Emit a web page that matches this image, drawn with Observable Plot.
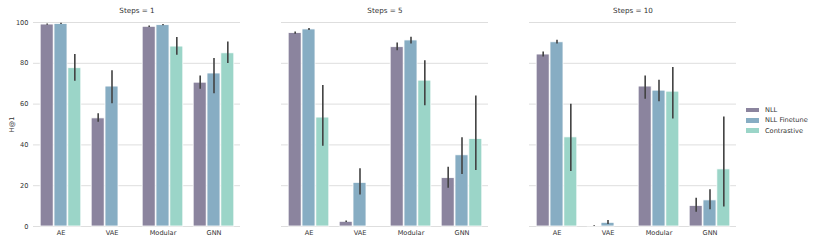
<!DOCTYPE html>
<html>
<head>
<meta charset="utf-8">
<script src="https://cdn.jsdelivr.net/npm/d3@7"></script>
<script src="https://cdn.jsdelivr.net/npm/@observablehq/plot@0.6"></script>
<style>
  html, body { margin: 0; padding: 0; background: #fff; }
  #wrap { position: relative; width: 817px; height: 243px; font-family: "DejaVu Sans", sans-serif; }
  #legend { position: absolute; left: 746px; top: 105px; font-size: 6.6px; color: #333; }
  #legend .row { display: flex; align-items: center; height: 10.3px; }
  #legend .sw { width: 13px; height: 4.5px; margin-right: 6px; }
</style>
</head>
<body>
<div id="wrap"><div id="chart"></div><div id="legend"></div></div>
<script>
const steps = [1, 5, 10];
const models = ["AE", "VAE", "Modular", "GNN"];
const methods = ["NLL", "NLL Finetune", "Contrastive"];
const colors = ["#8b849e", "#87adc3", "#9bd5c8"];

// values ordered steps x models
const nllMean = [99.0, 53.0, 97.9, 70.5, 94.8, 2.3, 87.9, 23.7, 84.3, 0.3, 68.6, 10.1];
const nllLo   = [98.6, 51.1, 97.5, 67.3, 94.3, 1.9, 86.1, 18.8, 83.1, 0.1, 62.4, 7.0];
const nllHi   = [99.3, 55.3, 98.3, 73.8, 95.4, 2.7, 89.9, 29.0, 85.6, 0.5, 73.8, 13.9];
const ftMean  = [99.3, 68.6, 98.7, 75.0, 96.6, 21.4, 91.2, 34.9, 90.3, 1.8, 66.6, 12.8];
const ftLo    = [99.0, 60.2, 98.4, 65.1, 96.1, 15.5, 89.5, 25.5, 89.5, 1.0, 61.2, 8.2];
const ftHi    = [99.6, 76.3, 99.0, 82.3, 97.1, 28.3, 92.8, 43.5, 91.3, 2.9, 71.7, 18.0];
const coMean  = [77.6, null, 88.2, 84.9, 53.4, null, 71.5, 42.9, 43.7, null, 66.1, 28.0];
const coLo    = [71.2, null, 84.0, 79.9, 39.3, null, 59.2, 27.5, 27.0, null, 52.7, 9.5];
const coHi    = [84.3, null, 92.6, 90.5, 69.1, null, 81.3, 64.0, 59.9, null, 77.9, 53.7];
const yTicks = [0, 20, 40, 60, 80, 100];

const series = [[nllMean, nllLo, nllHi], [ftMean, ftLo, ftHi], [coMean, coLo, coHi]];
const rows = [];
methods.forEach((m, mi) => {
  steps.forEach((s, si) => {
    models.forEach((md, k) => {
      const idx = si * models.length + k;
      const v = series[mi][0][idx];
      if (v == null) return;
      rows.push({method: m, mi, steps: s, model: md, mean: v, lo: series[mi][1][idx], hi: series[mi][2][idx]});
    });
  });
});

const width = 817, marginLeft = 33, marginRight = 80;
const fxPad = 0.165;
const facetStep = (width - marginLeft - marginRight) / (steps.length - fxPad);
const facetW = facetStep * (1 - fxPad);
const bandW = facetW / models.length;
const groupW = bandW * 0.8;
const barW = groupW / methods.length;
const edge = (bandW - groupW) / 2;

const marks = [
  Plot.gridY(yTicks, {stroke: "#dedede", strokeOpacity: 1, strokeWidth: 1}),
  Plot.axisY({ticks: yTicks, tickSize: 0, tickPadding: 5, fontSize: 6.6, label: "H@1", labelAnchor: "center", labelArrow: "none", labelOffset: 24}),
  Plot.axisX({tickSize: 0, tickPadding: 4, fontSize: 6.6, label: null}),
  Plot.axisFx({anchor: "top", tickSize: 0, tickPadding: 10, fontSize: 7.2, label: null, tickFormat: d => `Steps = ${d}`})
];
methods.forEach((m, mi) => {
  const data = rows.filter(r => r.mi === mi);
  marks.push(Plot.barY(data, {
    fx: "steps", x: "model", y: "mean", fill: colors[mi], stroke: "white", strokeWidth: 0.8,
    insetLeft: edge + mi * barW, insetRight: bandW - edge - (mi + 1) * barW
  }));
});
methods.forEach((m, mi) => {
  const data = rows.filter(r => r.mi === mi);
  marks.push(Plot.ruleX(data, {
    fx: "steps", x: "model", y1: "lo", y2: "hi", stroke: "#424242", strokeWidth: 1.6,
    dx: (mi - 1) * barW
  }));
});

const chart = Plot.plot({
  width, height: 243,
  marginLeft, marginRight, marginTop: 22, marginBottom: 17,
  style: {fontFamily: "DejaVu Sans, sans-serif", color: "#333", background: "white"},
  fx: {domain: steps, paddingInner: fxPad, paddingOuter: 0},
  x: {domain: models, paddingInner: 0, paddingOuter: 0},
  y: {domain: [0, 100]},
  marks
});
document.getElementById("chart").appendChild(chart);

const legend = document.getElementById("legend");
methods.forEach((m, i) => {
  const row = document.createElement("div");
  row.className = "row";
  const sw = document.createElement("div");
  sw.className = "sw";
  sw.style.background = colors[i];
  row.appendChild(sw);
  row.appendChild(document.createTextNode(m));
  legend.appendChild(row);
});
</script>
</body>
</html>
